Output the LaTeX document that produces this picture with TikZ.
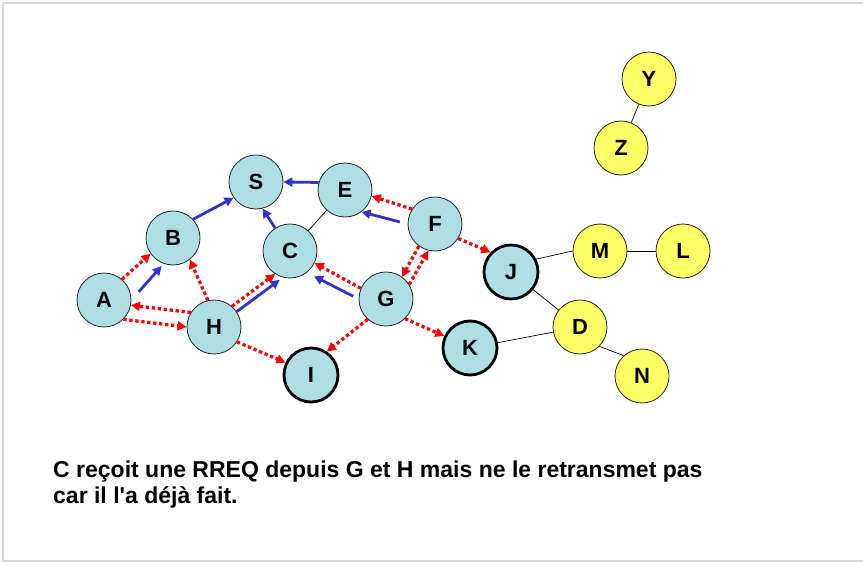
\documentclass[tikz,border=0pt]{standalone}
\usepackage{fontspec}
\setmainfont{Liberation Sans}[Ligatures=TeXOff]
\usetikzlibrary{arrows.meta}

\definecolor{bulle}{RGB}{172,222,228}
\definecolor{jaune}{RGB}{255,255,102}
\definecolor{bleu}{RGB}{51,51,204}
\definecolor{cadre}{RGB}{217,217,217}

\begin{document}
\begin{tikzpicture}[x=1pt, y=-1pt]
        \tikzstyle{host}=[circle, fill=bulle, draw=black!85, line width=0.8pt, minimum size=54pt, inner sep=0pt, font=\fontsize{22}{22}\selectfont\bfseries, text=black]
        \tikzstyle{dest}=[host, draw=black, line width=2.8pt]
        \tikzstyle{other}=[host, fill=jaune]
        \tikzstyle{edge}=[black, line width=0.7pt]

        \useasboundingbox (0,0) rectangle (863,562);
        \draw[cadre, line width=1.5pt] (863,3) -- (3,3) -- (3,561) -- (863,561);

        \node[host] (s) at (256,182) {S};
        \node[host] (e) at (345,190) {E};
        \node[host] (b) at (173,238) {B};
        \node[host] (c) at (290,251) {C};
        \node[host] (f) at (435,224) {F};
        \node[host] (a) at (104,300) {A};
        \node[host] (h) at (214,327) {H};
        \node[host] (g) at (386,299) {G};

        \node[dest] (i) at (311,375) {I};
        \node[dest] (j) at (511,272) {J};
        \node[dest] (k) at (470,348) {K};

        \node[other] (y) at (649,79)  {Y};
        \node[other] (z) at (621,148) {Z};
        \node[other] (m) at (600,251) {M};
        \node[other] (l) at (683,251) {L};
        \node[other] (d) at (580,327) {D};
        \node[other] (n) at (642,376) {N};

        \draw[edge] (c) -- (e);
        \draw[edge] (y) -- (z);
        \draw[edge] (j.27) -- (m.west);
        \draw[edge] (m) -- (l);
        \draw[edge] (j) -- (d);
        \draw[edge] (k) -- (d);
        \draw[edge] (d.-45) -- (n.132);

        % chemin inverse
        \tikzstyle{edge}=[bleu, line width=2.8pt, -{Triangle[length=9pt,width=9pt]}]
        \draw[edge] (b.43) -- (s.215);
        \draw[edge] (e.164) -- (s.east);
        \draw[edge] (c.123) -- (s.-76);
        \draw[edge, shorten <=11pt, shorten >=3pt] (a.0) -- (b.250);
        \draw[edge, shorten >=4pt] (h.34) -- (c.255);
        \draw[edge, shorten <=6pt, shorten >=8pt] (g.180) -- (c.-52);
        \draw[edge, shorten <=8pt] (f.180) -- (e.-53);

        % diffusion RREQ
        \tikzstyle{edge}=[red, line width=3.3pt, dash pattern=on 3.3pt off 2.7pt, -{Triangle[length=9pt,width=9pt]}]
        \draw[edge] (a.49) -- (b.215);
        \draw[edge] (a.-45) -- (h.west);
        \draw[edge] (h.148) -- (a.-11);
        \draw[edge] (h.103) -- (b.-52);
        \draw[edge] (h.49) -- (c.237);
        \draw[edge] (h.-33) -- (i.154);
        \draw[edge] (g.157) -- (c.-26);
        \draw[edge] (g.228) -- (i.56);
        \draw[edge] (g.-46) -- (k.155);
        \draw[edge] (g.32) -- (f.256);
        \draw[edge] (f.234) -- (g.54);
        \draw[edge] (f.147) -- (e.-13);
        \draw[edge] (f.-32) -- (j.136);

        \node[anchor=base west, align=left, inner sep=0pt, font=\fontsize{23}{26}\selectfont\bfseries] (txt) at (53,503)
            {C reçoit une RREQ depuis G et H mais ne le retransmet pas\\car il l'a déjà fait.};
    \end{tikzpicture}
\end{document}
